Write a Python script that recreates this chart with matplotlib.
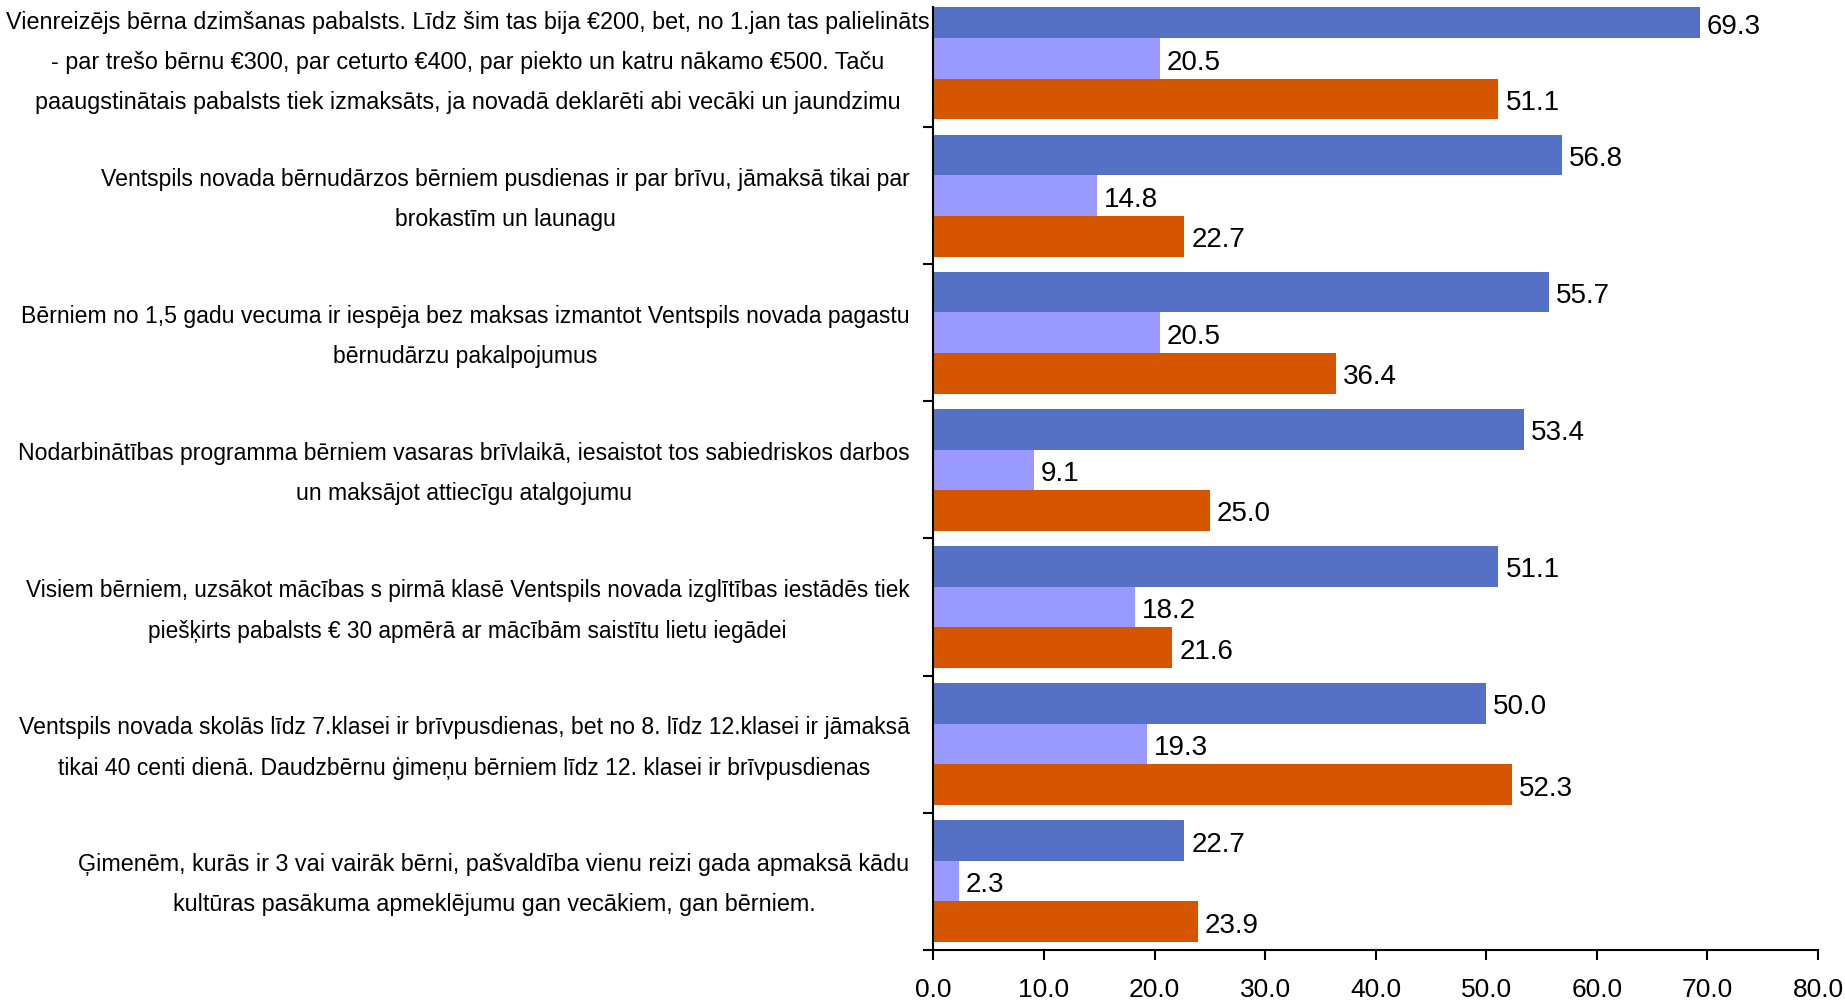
import matplotlib.pyplot as plt
import numpy as np

# Категории (сверху вниз как на исходнике)
categories = [
    "Vienreizējs bērna dzimšanas pabalsts. Līdz šim tas bija €200, bet, no 1.jan tas palielināts\n"
    "- par trešo bērnu €300, par ceturto €400, par piekto un katru nākamo €500. Taču\n"
    "paaugstinātais pabalsts tiek izmaksāts, ja novadā deklarēti abi vecāki un jaundzimu",
    "Ventspils novada bērnudārzos bērniem pusdienas ir par brīvu, jāmaksā tikai par\n"
    "brokastīm un launagu",
    "Bērniem no 1,5 gadu vecuma ir iespēja bez maksas izmantot Ventspils novada pagastu\n"
    "bērnudārzu pakalpojumus",
    "Nodarbinātības programma bērniem vasaras brīvlaikā, iesaistot tos sabiedriskos darbos\n"
    "un maksājot attiecīgu atalgojumu",
    "Visiem bērniem, uzsākot mācības s pirmā klasē Ventspils novada izglītības iestādēs tiek\n"
    "piešķirts pabalsts € 30 apmērā ar mācībām saistītu lietu iegādei",
    "Ventspils novada skolās līdz 7.klasei ir brīvpusdienas, bet no 8. līdz 12.klasei ir jāmaksā\n"
    "tikai 40 centi dienā. Daudzbērnu ģimeņu bērniem līdz 12. klasei ir brīvpusdienas",
    "Ģimenēm, kurās ir 3 vai vairāk bērni, pašvaldība vienu reizi gada apmaksā kādu\n"
    "kultūras pasākuma apmeklējumu gan vecākiem, gan bērniem.",
]

series_1 = [69.3, 56.8, 55.7, 53.4, 51.1, 50.0, 22.7]
series_2 = [20.5, 14.8, 20.5, 9.1, 18.2, 19.3, 2.3]
series_3 = [51.1, 22.7, 36.4, 25.0, 21.6, 52.3, 23.9]

x_ticks = [0, 10, 20, 30, 40, 50, 60, 70, 80]

colors = ['#5571C5', '#9999FF', '#D65600']

plt.rcParams['font.family'] = ['Liberation Sans', 'DejaVu Sans']

fig = plt.figure(figsize=(18.45, 10.04), dpi=100)
ax = fig.add_axes([0.5059, 0.0531, 0.4795, 0.9389])

n = len(categories)
y = np.arange(n)[::-1]  # первая категория сверху
h = 0.296
y_top = -0.5 + 942.7 / 137.1  # верх области построения обрезает первую категорию

for k, (vals, col) in enumerate(zip([series_1, series_2, series_3], colors)):
    yy = y + h * (1 - k)
    ax.barh(yy, vals, height=h, color=col, zorder=2)
    # подписи значений справа от столбцов (по центру видимой части)
    for v, yi in zip(vals, yy):
        lo, hi = yi - h / 2, min(yi + h / 2, y_top)
        ax.annotate(f"{v:.1f}", xy=(v, (lo + hi) / 2), xytext=(5, 0),
                    textcoords='offset points', ha='left',
                    va='center_baseline', fontsize=20, color='black')

# Оси
ax.set_xlim(0, 80)
ax.set_ylim(-0.5, y_top)
ax.set_xticks(x_ticks)
ax.set_xticklabels([f"{v:.1f}" for v in x_ticks], fontsize=19)
ax.tick_params(axis='x', direction='out', length=7, width=1.5, pad=13)

# Подписи категорий (первая чуть ближе к оси, как в оригинале)
label_sizes = [16.8, 16.6, 16.6, 16.6, 16.3, 16.6, 16.8]
ax.set_yticks([])
for i, (lbl, yi) in enumerate(zip(categories, y)):
    xpos = -0.0045 if i == 0 else -0.0271
    fs = label_sizes[i]
    ax.text(xpos, yi - 0.02, lbl, transform=ax.get_yaxis_transform(),
            ha='right', va='center', multialignment='center',
            fontsize=fs, linespacing=1.94 * 16.8 / fs)

ax.set_yticks(np.arange(n) - 0.5, minor=True)
ax.tick_params(axis='y', which='minor', direction='out', length=7, width=1.5)

for s in ['top', 'right']:
    ax.spines[s].set_visible(False)
for s in ['left', 'bottom']:
    ax.spines[s].set_linewidth(1.5)

plt.savefig('out.png', dpi=100)
plt.close()
